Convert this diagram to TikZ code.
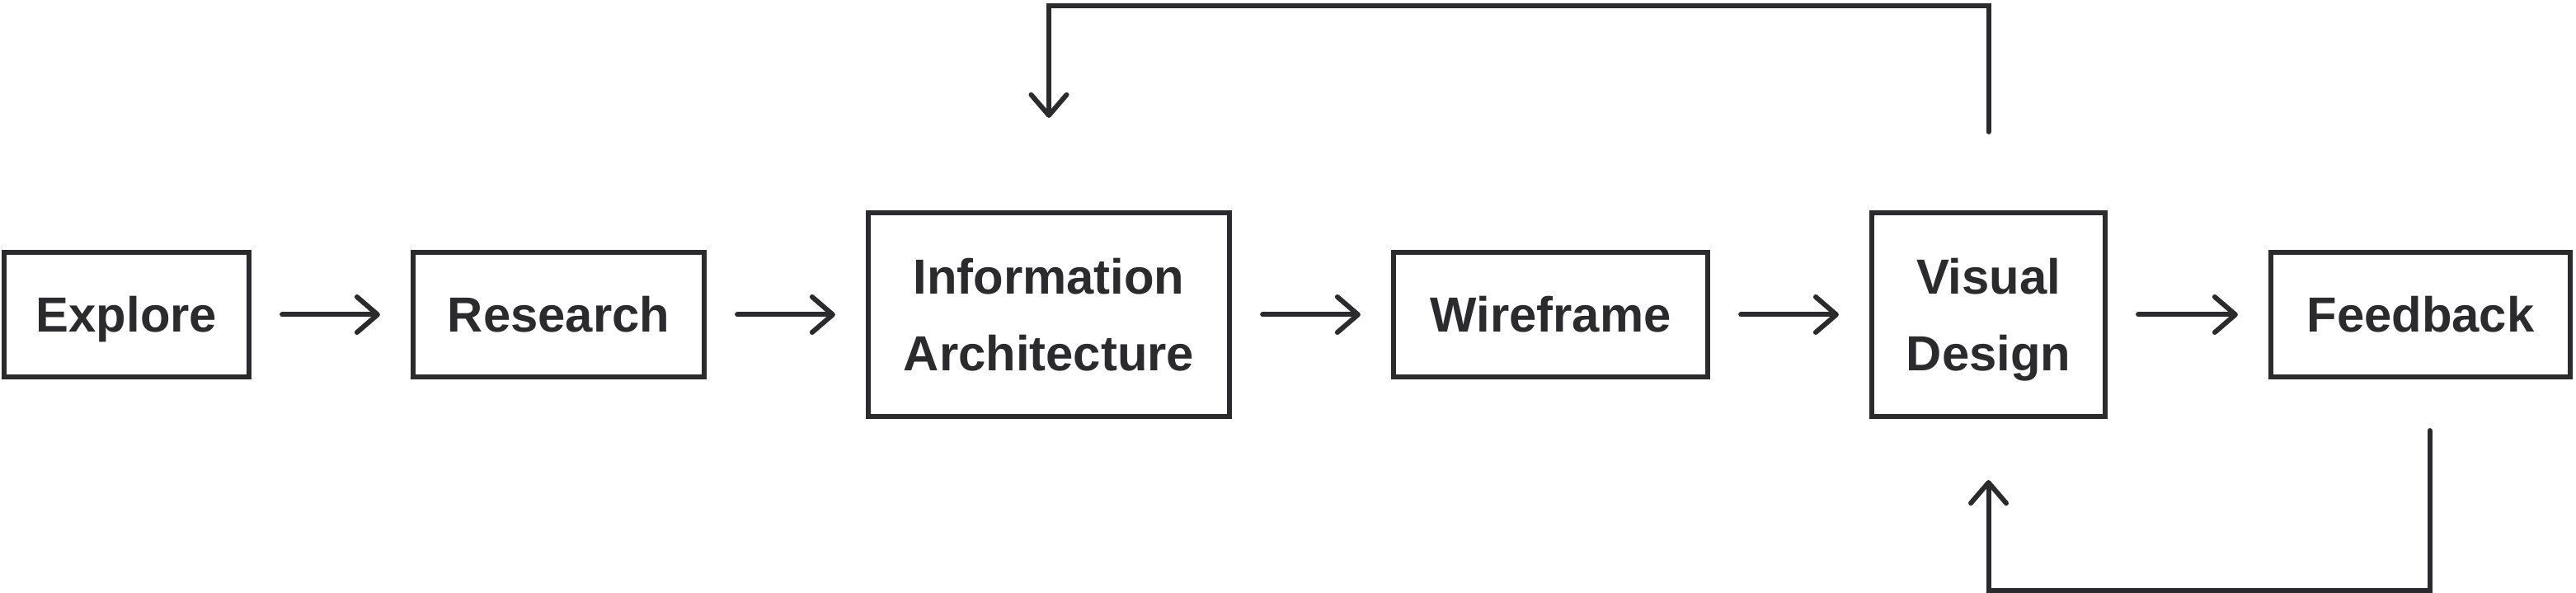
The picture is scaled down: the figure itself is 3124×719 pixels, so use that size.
\documentclass[tikz,border=0pt]{standalone}
\usepackage{fontspec}
\setmainfont{Liberation Sans}
\usetikzlibrary{arrows.meta}
\definecolor{ink}{HTML}{2B2B2D}
\tikzset{
  stage/.style={draw=ink, line width=1.7pt, text=ink, align=center,
    font=\fontsize{17}{26.5}\selectfont\bfseries,
    text height=12.2pt, text depth=0pt,
    minimum height=1.51cm, inner sep=0pt},
  tall/.style={minimum height=2.47cm, text height=38.7pt},
  flow/.style={draw=ink, line width=1.7pt, line cap=round,
    -{Straight Barb[round, length=0.25cm, width=0.43cm]}},
  gap/.style={shorten <=0.37cm, shorten >=0.37cm}
}
\begin{document}
\begin{tikzpicture}[x=0.01cm, y=0.01cm]
  \useasboundingbox (0,0) rectangle (3124,719);
  % stages
  \node[stage, minimum width=2.97cm] (explore) at (153.5,337.5) {Explore};
  \node[stage, minimum width=3.53cm] (research) at (677.5,337.5) {Research};
  \node[stage, tall, minimum width=4.38cm] (infoarch) at (1272,337.5) {Information\\Architecture};
  \node[stage, minimum width=3.81cm] (wireframe) at (1880.5,337.5) {Wireframe};
  \node[stage, tall, minimum width=2.83cm] (visual) at (2411.5,337.5) {Visual\\Design};
  \node[stage, minimum width=3.63cm] (feedback) at (2935.5,337.5) {Feedback};
  % main flow
  \draw[flow, gap] (explore) -- (research);
  \draw[flow, gap] (research) -- (infoarch);
  \draw[flow, gap] (infoarch) -- (wireframe);
  \draw[flow, gap] (wireframe) -- (visual);
  \draw[flow, gap] (visual) -- (feedback);
  % loops back
  \draw[flow, shorten <=0.95cm, shorten >=1.12cm] (visual.north) -- ++(0,248) -| (infoarch.north);
  \draw[flow, shorten <=0.62cm, shorten >=0.74cm] ([xshift=0.11cm]feedback.south) -- ++(0,-256) -| (visual.south);
\end{tikzpicture}
\end{document}
